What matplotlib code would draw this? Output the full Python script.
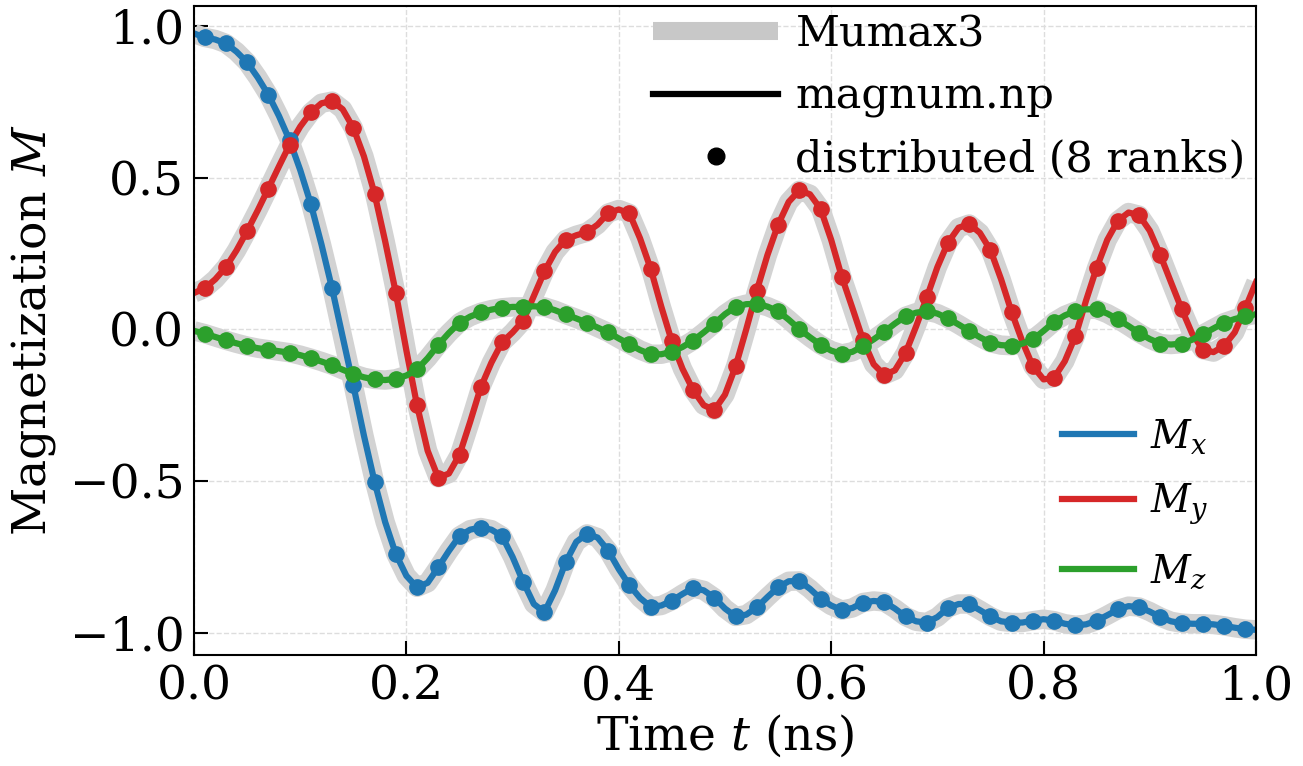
import numpy as np
import matplotlib
matplotlib.use("Agg")
import matplotlib.pyplot as plt
from matplotlib.lines import Line2D

plt.rcParams['font.family'] = ['DejaVu Serif']
plt.rcParams['mathtext.fontset'] = 'dejavuserif'

# dots: distributed run (8 ranks), every 0.02 ns starting at 0.01
t_dots = [0.01, 0.03, 0.05, 0.07, 0.09, 0.11, 0.13, 0.15, 0.17, 0.19,
          0.21, 0.23, 0.25, 0.27, 0.29, 0.31, 0.33, 0.35, 0.37, 0.39,
          0.41, 0.43, 0.45, 0.47, 0.49, 0.51, 0.53, 0.55, 0.57, 0.59,
          0.61, 0.63, 0.65, 0.67, 0.69, 0.71, 0.73, 0.75, 0.77, 0.79,
          0.81, 0.83, 0.85, 0.87, 0.89, 0.91, 0.93, 0.95, 0.97, 0.99]
mx_dots = [0.962, 0.942, 0.880, 0.773, 0.623, 0.413, 0.135, -0.184, -0.502, -0.740,
           -0.850, -0.784, -0.681, -0.653, -0.681, -0.832, -0.932, -0.767, -0.674, -0.729,
           -0.843, -0.914, -0.894, -0.852, -0.884, -0.946, -0.916, -0.850, -0.829, -0.887,
           -0.925, -0.900, -0.898, -0.946, -0.966, -0.918, -0.905, -0.946, -0.966, -0.960,
           -0.960, -0.975, -0.960, -0.923, -0.915, -0.948, -0.968, -0.970, -0.977, -0.988]
my_dots = [0.135, 0.205, 0.324, 0.464, 0.608, 0.715, 0.752, 0.664, 0.447, 0.121,
           -0.250, -0.489, -0.413, -0.191, -0.043, 0.029, 0.191, 0.296, 0.320, 0.383,
           0.382, 0.200, -0.040, -0.200, -0.266, -0.122, 0.128, 0.345, 0.458, 0.397,
           0.173, -0.035, -0.150, -0.078, 0.105, 0.286, 0.347, 0.261, 0.056, -0.122,
           -0.159, -0.022, 0.203, 0.358, 0.376, 0.244, 0.067, -0.067, -0.054, 0.070]
mz_dots = [-0.014, -0.036, -0.055, -0.067, -0.077, -0.095, -0.118, -0.147, -0.165, -0.163,
           -0.132, -0.051, 0.022, 0.056, 0.071, 0.074, 0.074, 0.049, 0.022, -0.010,
           -0.049, -0.082, -0.074, -0.037, 0.019, 0.074, 0.084, 0.060, 0.001, -0.051,
           -0.081, -0.055, -0.008, 0.043, 0.060, 0.036, -0.005, -0.044, -0.054, -0.033,
           0.025, 0.060, 0.066, 0.033, -0.012, -0.047, -0.047, -0.016, 0.022, 0.043]

# curve readings in between the dots (0.00, 0.02, ..., 1.00)
t_even = [0.00, 0.02, 0.04, 0.06, 0.08, 0.10, 0.12, 0.14, 0.16, 0.18,
          0.20, 0.22, 0.24, 0.26, 0.28, 0.30, 0.32, 0.34, 0.36, 0.38,
          0.40, 0.42, 0.44, 0.46, 0.48, 0.50, 0.52, 0.54, 0.56, 0.58,
          0.60, 0.62, 0.64, 0.66, 0.68, 0.70, 0.72, 0.74, 0.76, 0.78,
          0.80, 0.82, 0.84, 0.86, 0.88, 0.90, 0.92, 0.94, 0.96, 0.98, 1.00]
mx_even = [0.975, 0.955, 0.915, 0.830, 0.703, 0.525, 0.280, -0.025, -0.350, -0.635,
           -0.812, -0.835, -0.730, -0.660, -0.660, -0.750, -0.905, -0.860, -0.700, -0.686,
           -0.790, -0.885, -0.910, -0.872, -0.860, -0.920, -0.940, -0.882, -0.830, -0.855,
           -0.910, -0.918, -0.895, -0.920, -0.962, -0.948, -0.905, -0.925, -0.962, -0.966,
           -0.955, -0.970, -0.972, -0.942, -0.912, -0.930, -0.962, -0.970, -0.972, -0.983, -0.990]
my_even = [0.120, 0.165, 0.260, 0.392, 0.537, 0.668, 0.745, 0.725, 0.570, 0.290,
           -0.070, -0.400, -0.475, -0.305, -0.110, -0.010, 0.110, 0.255, 0.310, 0.345,
           0.395, 0.300, 0.075, -0.130, -0.250, -0.215, 0.000, 0.245, 0.420, 0.445,
           0.295, 0.070, -0.115, -0.135, 0.010, 0.205, 0.335, 0.318, 0.165, -0.040,
           -0.165, -0.105, 0.095, 0.295, 0.385, 0.325, 0.155, -0.015, -0.075, -0.010, 0.155]
mz_even = [-0.005, -0.025, -0.046, -0.062, -0.072, -0.085, -0.106, -0.133, -0.158, -0.167,
           -0.152, -0.095, -0.012, 0.042, 0.065, 0.074, 0.076, 0.063, 0.036, 0.006,
           -0.030, -0.068, -0.082, -0.058, -0.010, 0.050, 0.083, 0.075, 0.032, -0.026,
           -0.070, -0.074, -0.033, 0.019, 0.055, 0.052, 0.016, -0.026, -0.052, -0.047,
           -0.005, 0.046, 0.066, 0.052, 0.011, -0.032, -0.050, -0.034, 0.003, 0.034, 0.050]

colors = ['tab:blue', 'tab:red', 'tab:green']
comp_labels = ['$M_x$', '$M_y$', '$M_z$']

# full curves = even readings + dot readings, sorted by time
t_line = np.array(t_even + t_dots)
order = np.argsort(t_line)
t_line = t_line[order]
lines = [np.array(mx_even + mx_dots)[order],
         np.array(my_even + my_dots)[order],
         np.array(mz_even + mz_dots)[order]]
dots = [mx_dots, my_dots, mz_dots]

fig = plt.figure(figsize=(13.03, 7.66), dpi=100)
ax = fig.add_axes([0.1489, 0.1449, 0.815, 0.8471])

for m in lines:
    ax.plot(t_line, m, color='#d3d3d3', lw=14, solid_capstyle='butt', zorder=1)
for m, c in zip(lines, colors):
    ax.plot(t_line, m, color=c, lw=4.5, zorder=2)
for m, c in zip(dots, colors):
    ax.plot(t_dots, m, 'o', color=c, ms=11, zorder=3)

ax.set_xlim(0, 1)
ax.set_ylim(-1.073, 1.065)
ax.set_xticks([0.0, 0.2, 0.4, 0.6, 0.8, 1.0])
ax.set_yticks([-1.0, -0.5, 0.0, 0.5, 1.0])
ax.tick_params(direction='in', length=10, width=1.5, labelsize=34, pad=7)
for s in ax.spines.values():
    s.set_linewidth(1.5)
ax.grid(True, ls='--', color='#dddddd', lw=1.0)
ax.set_axisbelow(True)
ax.set_xlabel('Time $t$ (ns)', fontsize=34, labelpad=2)
ax.set_ylabel('Magnetization $M$', fontsize=34, labelpad=8)

# legend for the codes
h1 = [Line2D([], [], color='#c8c8c8', lw=13, solid_capstyle='butt'),
      Line2D([], [], color='black', lw=4.5),
      Line2D([], [], color='black', marker='o', ls='none', ms=12)]
leg1 = ax.legend(h1, ['Mumax3', 'magnum.np', 'distributed (8 ranks)'],
                 loc='upper right', bbox_to_anchor=(0.9944, 0.9954), frameon=False,
                 fontsize=31, handlelength=2.9, handletextpad=0.4,
                 labelspacing=0.47, borderaxespad=0.1, borderpad=0.0)
ax.add_artist(leg1)

# legend for the components
h2 = [Line2D([], [], color=c, lw=4.5) for c in colors]
ax.legend(h2, comp_labels, loc='lower right', bbox_to_anchor=(0.981, 0.057),
          frameon=False, fontsize=28, handlelength=1.85, handletextpad=0.42,
          labelspacing=0.67, borderaxespad=0.3)

fig.savefig('out.png', dpi=100)
